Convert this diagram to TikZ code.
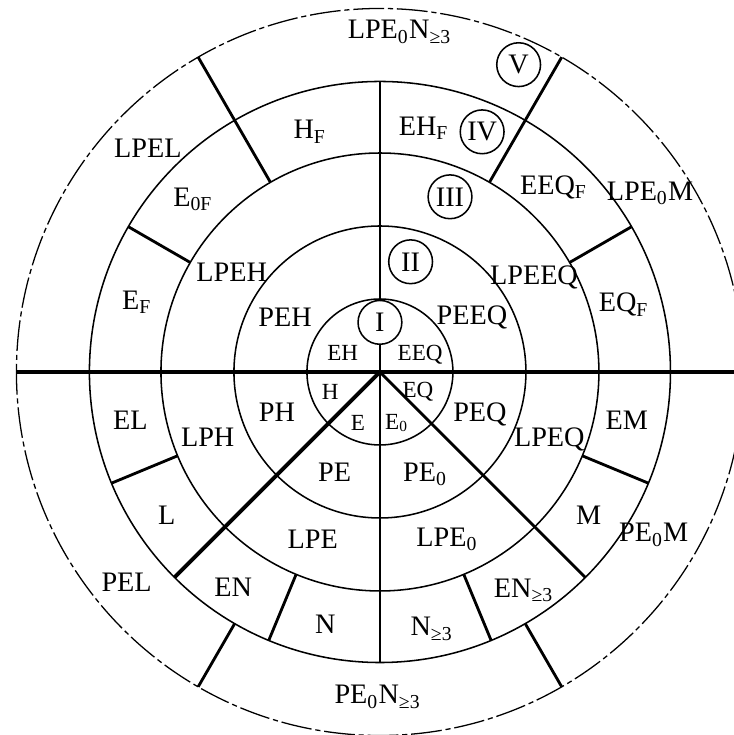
\documentclass[tikz,border=0pt]{standalone}
\usepackage{fontspec}
\setmainfont{Liberation Serif}
\usepackage{tikz}

\begin{document}
\begin{tikzpicture}[
        lbl/.style={font=\fontsize{11}{13}\selectfont, inner sep=1pt},
        lblsmall/.style={font=\fontsize{9}{10}\selectfont, inner sep=1pt},
        numcirc/.style={circle, draw, fill=white, line width=0.6pt, inner sep=0pt, minimum size=0.6cm, font=\fontsize{11}{13}\selectfont},
        ring/.style={line width=0.6pt},
        outerring/.style={line width=0.5pt, dash pattern=on 12pt off 1.5pt on 2pt off 1.5pt},
        sep/.style={line width=1.1pt},
        axis/.style={line width=1.3pt}]
        	% Frame, rings and spokes:
        	\useasboundingbox (-5.205, -4.973) rectangle (4.849, 5.096);
        	\clip (-5.205, -4.973) rectangle (4.849, 5.096);
        	\draw[ring] (0, 0) circle (1);
        	\draw[ring] (0, 0) circle (2);
        	\draw[ring] (0, 0) circle (3);
        	\draw[ring] (0, 0) circle (3.98);
        	\draw[outerring] (0, 0) circle (4.98);
        	\draw[axis] (180:4.98) -- (0:4.98);
        	\draw[line width=0.8pt] (90:3.98) -- (270:3.98);
        	\draw[line width=1.5pt] (0, 0) -- (225:3.98);
        	\draw[sep] (0, 0) -- (315:3.98);
        	\draw[sep] (60:3) -- (60:4.98);
        	\draw[sep] (120:3) -- (120:4.98);
        	\draw[sep] (240:3.98) -- (240:4.98);
        	\draw[sep] (300:3.98) -- (300:4.98);
        	\draw[sep] (30:3) -- (30:3.98);
        	\draw[sep] (150:3) -- (150:3.98);
        	\draw[sep] (202.5:3) -- (202.5:3.98);
        	\draw[sep] (247.5:3) -- (247.5:3.98);
        	\draw[sep] (292.5:3) -- (292.5:3.98);
        	\draw[sep] (337.5:3) -- (337.5:3.98);
        	% Ring I:
        	\node[lblsmall] (EH) at (-0.51, 0.26) {EH};
        	\node[lblsmall] (EEQ) at (0.55, 0.23) {EEQ};
        	\node[lblsmall] (H) at (-0.68, -0.27) {H};
        	\node[lblsmall] (E) at (-0.30, -0.70) {E};
        	\node[lblsmall] (Ezero) at (0.23, -0.70) {E\textsubscript{0}};
        	\node[lblsmall] (EQ) at (0.52, -0.27) {EQ};
        	% Ring II:
        	\node[lbl] (PEH) at (-1.30, 0.75) {PEH};
        	\node[lbl] (PEEQ) at (1.26, 0.75) {PEEQ};
        	\node[lbl] (PH) at (-1.41, -0.55) {PH};
        	\node[lbl] (PE) at (-0.62, -1.37) {PE};
        	\node[lbl] (PEzero) at (0.62, -1.40) {PE\textsubscript{0}};
        	\node[lbl] (PEQ) at (1.37, -0.58) {PEQ};
        	% Ring III:
        	\node[lbl] (LPEH) at (-2.03, 1.36) {LPEH};
        	\node[lbl] (LPEEQ) at (2.11, 1.30) {LPEEQ};
        	\node[lbl] (LPH) at (-2.36, -0.89) {LPH};
        	\node[lbl] (LPE) at (-0.92, -2.29) {LPE};
        	\node[lbl] (LPEzero) at (0.92, -2.29) {LPE\textsubscript{0}};
        	\node[lbl] (LPEQ) at (2.32, -0.92) {LPEQ};
        	% Ring IV:
        	\node[lbl] (EF) at (-3.33, 0.95) {E\textsubscript{F}};
        	\node[lbl] (EzeroF) at (-2.56, 2.36) {E\textsubscript{0F}};
        	\node[lbl] (HF) at (-0.96, 3.29) {H\textsubscript{F}};
        	\node[lbl] (EHF) at (0.60, 3.34) {EH\textsubscript{F}};
        	\node[lbl] (EEQF) at (2.38, 2.53) {EEQ\textsubscript{F}};
        	\node[lbl] (EQF) at (3.34, 0.92) {EQ\textsubscript{F}};
        	\node[lbl] (EL) at (-3.42, -0.66) {EL};
        	\node[lbl] (L) at (-2.92, -1.96) {L};
        	\node[lbl] (EN) at (-2.01, -2.95) {EN};
        	\node[lbl] (N) at (-0.75, -3.45) {N};
        	\node[lbl] (Ngeq) at (0.71, -3.52) {N\textsubscript{≥3}};
        	\node[lbl] (ENgeq) at (1.97, -2.99) {EN\textsubscript{≥3}};
        	\node[lbl] (M) at (2.86, -1.96) {M};
        	\node[lbl] (EM) at (3.38, -0.66) {EM};
        	% Ring V:
        	\node[lbl] (LPEzeroNgeq) at (0.27, 4.66) {LPE\textsubscript{0}N\textsubscript{≥3}};
        	\node[lbl] (LPEL) at (-3.18, 3.07) {LPEL};
        	\node[lbl] (LPEzeroM) at (3.70, 2.45) {LPE\textsubscript{0}M};
        	\node[lbl] (PEL) at (-3.47, -2.88) {PEL};
        	\node[lbl] (PEzeroNgeq) at (-0.03, -4.45) {PE\textsubscript{0}N\textsubscript{≥3}};
        	\node[lbl] (PEzeroM) at (3.75, -2.23) {PE\textsubscript{0}M};
        	% Ring numbers:
        	\node[numcirc] (numI) at (0, 0.68) {I};
        	\node[numcirc] (numII) at (0.42, 1.51) {II};
        	\node[numcirc] (numIII) at (0.96, 2.40) {III};
        	\node[numcirc] (numIV) at (1.40, 3.29) {IV};
        	\node[numcirc] (numV) at (1.90, 4.21) {V};
        \end{tikzpicture}
\end{document}
